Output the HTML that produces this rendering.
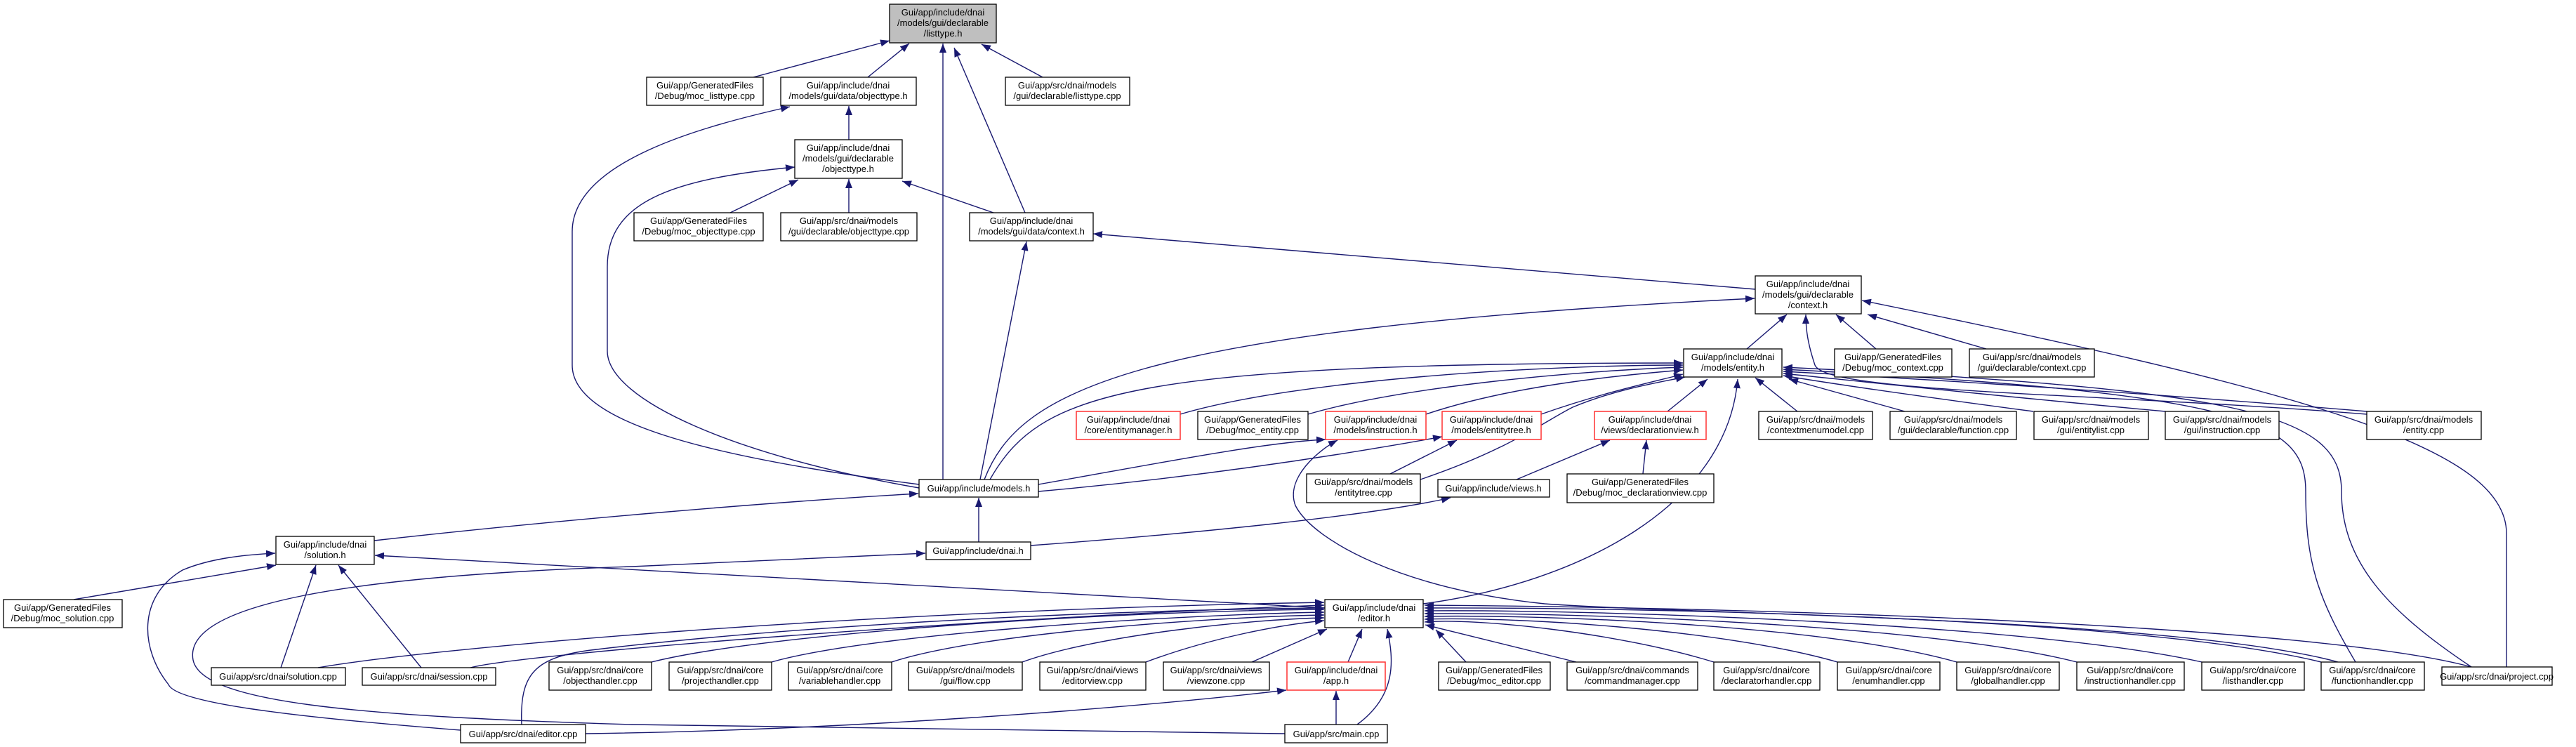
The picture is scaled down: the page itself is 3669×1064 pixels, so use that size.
<!DOCTYPE html>
<html><head><meta charset="utf-8">
<style>
html,body{margin:0;padding:0;background:#fff;}
svg{display:block;}
text{font-family:"Liberation Sans",Arial,sans-serif;font-size:13px;fill:#000;text-anchor:middle;}
.n{fill:#fff;stroke:#000;stroke-width:1.3;}
.r{fill:#fff;stroke:#ff3030;stroke-width:1.5;}
.g{fill:#bfbfbf;stroke:#000;stroke-width:1.3;}
.e{fill:none;stroke:#191970;stroke-width:1.4;marker-end:url(#a);}
</style></head>
<body>
<svg width="3669" height="1064" viewBox="0 0 3669 1064" xmlns="http://www.w3.org/2000/svg">
<defs><marker id="a" markerUnits="userSpaceOnUse" markerWidth="14" markerHeight="11" refX="13" refY="5" orient="auto"><path d="M0,0 L13,5 L0,10 z" fill="#191970"/></marker></defs>

<!-- edges -->
<g>
<path class="e" d="M1073,110 L1267,58"/>
<path class="e" d="M1236,110 L1295,62"/>
<path class="e" d="M1485,110 L1398,63"/>
<path class="e" d="M1343,683 L1343,62"/>
<path class="e" d="M1460,303 L1359,68"/>
<path class="e" d="M1209,199 L1209,151"/>
<path class="e" d="M1309,690 C1000,650 815,600 815,520 L815,330 C815,230 1000,180 1125,152"/>
<path class="e" d="M1309,695 C1050,650 865,570 865,500 L865,380 C865,290 950,255 1132,238"/>
<path class="e" d="M1040,303 L1137,256"/>
<path class="e" d="M1209,303 L1209,255"/>
<path class="e" d="M1415,303 L1285,258"/>
<path class="e" d="M1396,683 L1462,344"/>
<path class="e" d="M2500,412 L1557,333"/>
<path class="e" d="M2488,497 L2545,448"/>
<path class="e" d="M1402,683 C1450,560 1600,470 2499,425"/>
<path class="e" d="M2672,497 L2615,448"/>
<path class="e" d="M2829,497 L2660,448"/>
<path class="e" d="M3570,950 L3570,760 C3570,640 3300,560 2652,428"/>
<path class="e" d="M3371,590 C3000,560 2600,560 2585,520 C2575,490 2572,470 2572,448"/>
<!-- entity.h children -->
<path class="e" d="M1410,683 C1480,560 1600,517 2397,517"/>
<path class="e" d="M1681,590 C1850,540 2200,520 2397,520"/>
<path class="e" d="M1863,590 C2000,550 2250,528 2397,523"/>
<path class="e" d="M2031,590 C2150,550 2300,535 2397,527"/>
<path class="e" d="M2195,590 C2280,560 2350,545 2397,533"/>
<path class="e" d="M2023,683 C2150,640 2200,600 2240,580 C2300,555 2360,545 2400,537"/>
<path class="e" d="M2375,586 L2432,540"/>
<path class="e" d="M2560,586 L2500,538"/>
<path class="e" d="M2713,586 L2548,540"/>
<path class="e" d="M2896,586 C2700,560 2600,545 2540,535"/>
<path class="e" d="M3084,586 C2800,560 2620,540 2540,532"/>
<path class="e" d="M3371,586 C3000,555 2650,535 2540,529"/>
<path class="e" d="M2027,860 C2250,830 2460,720 2475,540"/>
<path class="e" d="M3355,943 C3300,850 3284,800 3284,700 C3284,600 3200,560 2540,526"/>
<path class="e" d="M3520,950 C3400,870 3335,800 3335,700 C3335,590 3200,555 2540,523"/>
<!-- instruction / entitytree -->
<path class="e" d="M1479,690 C1650,660 1800,630 1888,626"/>
<path class="e" d="M1479,700 C1700,680 1900,650 2054,622"/>
<path class="e" d="M3330,943 C3100,880 2400,875 2200,860 C2000,840 1870,770 1845,720 C1830,680 1880,640 1905,627"/>
<path class="e" d="M1980,675 L2075,627"/>
<path class="e" d="M2160,683 L2293,627"/>
<path class="e" d="M2340,675 L2345,627"/>
<!-- models/dnai/solution -->
<path class="e" d="M1394,772 L1394,709"/>
<path class="e" d="M533,770 C800,740 1100,715 1308,703"/>
<path class="e" d="M1468,777 C1700,760 1950,735 2066,709"/>
<path class="e" d="M1830,1045 L900,1032 C500,1020 287,1000 275,940 C260,860 500,820 900,807 L1318,788"/>
<path class="e" d="M656,1040 C400,1020 250,1000 240,975 C200,925 195,850 260,812 C300,795 350,790 392,788"/>
<path class="e" d="M105,854 L393,805"/>
<path class="e" d="M400,951 L450,805"/>
<path class="e" d="M600,951 L482,805"/>
<path class="e" d="M1887,866 L534,791"/>
<!-- editor.h children -->
<path class="e" d="M453,951 C600,925 1200,870 1886,858"/>
<path class="e" d="M670,951 C750,930 1400,880 1886,862"/>
<path class="e" d="M743,1033 C740,960 760,935 850,925 C1100,895 1500,870 1886,866"/>
<path class="e" d="M928,943 C1100,900 1600,870 1886,868"/>
<path class="e" d="M1099,943 C1250,900 1700,875 1886,872"/>
<path class="e" d="M1270,943 C1400,900 1750,878 1886,876"/>
<path class="e" d="M1456,943 C1560,905 1780,882 1886,880"/>
<path class="e" d="M1632,943 C1720,910 1820,890 1886,884"/>
<path class="e" d="M1783,943 L1890,896"/>
<path class="e" d="M1920,943 L1940,896"/>
<path class="e" d="M1933,1032 C1990,990 1985,940 1976,896"/>
<path class="e" d="M2088,943 L2045,897"/>
<path class="e" d="M2245,943 L2030,890"/>
<path class="e" d="M2441,943 C2300,900 2100,880 2029,886"/>
<path class="e" d="M2617,943 C2450,895 2150,878 2029,882"/>
<path class="e" d="M2787,943 C2600,890 2200,875 2029,878"/>
<path class="e" d="M2958,943 C2750,890 2250,872 2029,874"/>
<path class="e" d="M3136,943 C2900,890 2300,868 2029,870"/>
<path class="e" d="M3306,943 C3050,880 2350,865 2029,866"/>
<path class="e" d="M3520,950 C3300,890 2500,865 2029,862"/>
<path class="e" d="M834,1045 C1200,1040 1600,1010 1832,983"/>
<path class="e" d="M1903,1032 L1903,984"/>
</g>

<!-- nodes -->
<g>
<rect class="g" x="1267" y="6" width="152" height="55"/>
<text x="1343" y="22">Gui/app/include/dnai</text><text x="1343" y="37">/models/gui/declarable</text><text x="1343" y="52">/listtype.h</text>

<rect class="n" x="921" y="110" width="166" height="40"/>
<text x="1004" y="126">Gui/app/GeneratedFiles</text><text x="1004" y="141">/Debug/moc_listtype.cpp</text>

<rect class="n" x="1112" y="110" width="193" height="40"/>
<text x="1208" y="126">Gui/app/include/dnai</text><text x="1208" y="141">/models/gui/data/objecttype.h</text>

<rect class="n" x="1432" y="110" width="177" height="40"/>
<text x="1520" y="126">Gui/app/src/dnai/models</text><text x="1520" y="141">/gui/declarable/listtype.cpp</text>

<rect class="n" x="1132" y="199" width="153" height="55"/>
<text x="1208" y="215">Gui/app/include/dnai</text><text x="1208" y="230">/models/gui/declarable</text><text x="1208" y="245">/objecttype.h</text>

<rect class="n" x="903" y="303" width="184" height="40"/>
<text x="995" y="319">Gui/app/GeneratedFiles</text><text x="995" y="334">/Debug/moc_objecttype.cpp</text>

<rect class="n" x="1112" y="303" width="194" height="40"/>
<text x="1209" y="319">Gui/app/src/dnai/models</text><text x="1209" y="334">/gui/declarable/objecttype.cpp</text>

<rect class="n" x="1381" y="303" width="176" height="40"/>
<text x="1469" y="319">Gui/app/include/dnai</text><text x="1469" y="334">/models/gui/data/context.h</text>

<rect class="n" x="2500" y="393" width="151" height="54"/>
<text x="2575" y="409">Gui/app/include/dnai</text><text x="2575" y="424">/models/gui/declarable</text><text x="2575" y="439">/context.h</text>

<rect class="n" x="2398" y="497" width="140" height="40"/>
<text x="2468" y="513">Gui/app/include/dnai</text><text x="2468" y="528">/models/entity.h</text>

<rect class="n" x="2613" y="497" width="167" height="40"/>
<text x="2696" y="513">Gui/app/GeneratedFiles</text><text x="2696" y="528">/Debug/moc_context.cpp</text>

<rect class="n" x="2805" y="497" width="178" height="40"/>
<text x="2894" y="513">Gui/app/src/dnai/models</text><text x="2894" y="528">/gui/declarable/context.cpp</text>

<rect class="r" x="1533" y="586" width="148" height="40"/>
<text x="1607" y="602">Gui/app/include/dnai</text><text x="1607" y="617">/core/entitymanager.h</text>

<rect class="n" x="1706" y="586" width="157" height="40"/>
<text x="1784" y="602">Gui/app/GeneratedFiles</text><text x="1784" y="617">/Debug/moc_entity.cpp</text>

<rect class="r" x="1888" y="586" width="143" height="40"/>
<text x="1959" y="602">Gui/app/include/dnai</text><text x="1959" y="617">/models/instruction.h</text>

<rect class="r" x="2054" y="586" width="141" height="40"/>
<text x="2124" y="602">Gui/app/include/dnai</text><text x="2124" y="617">/models/entitytree.h</text>

<rect class="r" x="2271" y="586" width="159" height="40"/>
<text x="2350" y="602">Gui/app/include/dnai</text><text x="2350" y="617">/views/declarationview.h</text>

<rect class="n" x="2505" y="586" width="162" height="40"/>
<text x="2586" y="602">Gui/app/src/dnai/models</text><text x="2586" y="617">/contextmenumodel.cpp</text>

<rect class="n" x="2692" y="586" width="180" height="40"/>
<text x="2782" y="602">Gui/app/src/dnai/models</text><text x="2782" y="617">/gui/declarable/function.cpp</text>

<rect class="n" x="2897" y="586" width="163" height="40"/>
<text x="2978" y="602">Gui/app/src/dnai/models</text><text x="2978" y="617">/gui/entitylist.cpp</text>

<rect class="n" x="3084" y="586" width="162" height="40"/>
<text x="3165" y="602">Gui/app/src/dnai/models</text><text x="3165" y="617">/gui/instruction.cpp</text>

<rect class="n" x="3371" y="586" width="163" height="40"/>
<text x="3452" y="602">Gui/app/src/dnai/models</text><text x="3452" y="617">/entity.cpp</text>

<rect class="n" x="1309" y="683" width="170" height="25"/>
<text x="1394" y="700">Gui/app/include/models.h</text>

<rect class="n" x="1861" y="675" width="162" height="41"/>
<text x="1942" y="691">Gui/app/src/dnai/models</text><text x="1942" y="706">/entitytree.cpp</text>

<rect class="n" x="2048" y="683" width="159" height="25"/>
<text x="2127" y="700">Gui/app/include/views.h</text>

<rect class="n" x="2232" y="675" width="209" height="41"/>
<text x="2336" y="691">Gui/app/GeneratedFiles</text><text x="2336" y="706">/Debug/moc_declarationview.cpp</text>

<rect class="n" x="1319" y="772" width="149" height="25"/>
<text x="1393" y="789">Gui/app/include/dnai.h</text>

<rect class="n" x="393" y="764" width="140" height="40"/>
<text x="463" y="780">Gui/app/include/dnai</text><text x="463" y="795">/solution.h</text>

<rect class="n" x="5" y="854" width="169" height="40"/>
<text x="89" y="870">Gui/app/GeneratedFiles</text><text x="89" y="885">/Debug/moc_solution.cpp</text>

<rect class="n" x="1887" y="854" width="140" height="40"/>
<text x="1957" y="870">Gui/app/include/dnai</text><text x="1957" y="885">/editor.h</text>

<rect class="n" x="301" y="951" width="191" height="25"/>
<text x="396" y="968">Gui/app/src/dnai/solution.cpp</text>

<rect class="n" x="516" y="951" width="190" height="25"/>
<text x="611" y="968">Gui/app/src/dnai/session.cpp</text>

<rect class="n" x="782" y="943" width="146" height="40"/>
<text x="855" y="959">Gui/app/src/dnai/core</text><text x="855" y="974">/objecthandler.cpp</text>

<rect class="n" x="953" y="943" width="146" height="40"/>
<text x="1026" y="959">Gui/app/src/dnai/core</text><text x="1026" y="974">/projecthandler.cpp</text>

<rect class="n" x="1123" y="943" width="147" height="40"/>
<text x="1196" y="959">Gui/app/src/dnai/core</text><text x="1196" y="974">/variablehandler.cpp</text>

<rect class="n" x="1294" y="943" width="162" height="40"/>
<text x="1375" y="959">Gui/app/src/dnai/models</text><text x="1375" y="974">/gui/flow.cpp</text>

<rect class="n" x="1481" y="943" width="151" height="40"/>
<text x="1556" y="959">Gui/app/src/dnai/views</text><text x="1556" y="974">/editorview.cpp</text>

<rect class="n" x="1657" y="943" width="151" height="40"/>
<text x="1732" y="959">Gui/app/src/dnai/views</text><text x="1732" y="974">/viewzone.cpp</text>

<rect class="r" x="1833" y="943" width="140" height="40"/>
<text x="1903" y="959">Gui/app/include/dnai</text><text x="1903" y="974">/app.h</text>

<rect class="n" x="2049" y="943" width="159" height="40"/>
<text x="2128" y="959">Gui/app/GeneratedFiles</text><text x="2128" y="974">/Debug/moc_editor.cpp</text>

<rect class="n" x="2232" y="943" width="186" height="40"/>
<text x="2325" y="959">Gui/app/src/dnai/commands</text><text x="2325" y="974">/commandmanager.cpp</text>

<rect class="n" x="2441" y="943" width="151" height="40"/>
<text x="2516" y="959">Gui/app/src/dnai/core</text><text x="2516" y="974">/declaratorhandler.cpp</text>

<rect class="n" x="2617" y="943" width="146" height="40"/>
<text x="2690" y="959">Gui/app/src/dnai/core</text><text x="2690" y="974">/enumhandler.cpp</text>

<rect class="n" x="2787" y="943" width="146" height="40"/>
<text x="2860" y="959">Gui/app/src/dnai/core</text><text x="2860" y="974">/globalhandler.cpp</text>

<rect class="n" x="2958" y="943" width="153" height="40"/>
<text x="3034" y="959">Gui/app/src/dnai/core</text><text x="3034" y="974">/instructionhandler.cpp</text>

<rect class="n" x="3136" y="943" width="146" height="40"/>
<text x="3209" y="959">Gui/app/src/dnai/core</text><text x="3209" y="974">/listhandler.cpp</text>

<rect class="n" x="3306" y="943" width="147" height="40"/>
<text x="3379" y="959">Gui/app/src/dnai/core</text><text x="3379" y="974">/functionhandler.cpp</text>

<rect class="n" x="3478" y="950" width="157" height="26"/>
<text x="3556" y="968">Gui/app/src/dnai/project.cpp</text>

<rect class="n" x="656" y="1032" width="178" height="26"/>
<text x="745" y="1050">Gui/app/src/dnai/editor.cpp</text>

<rect class="n" x="1830" y="1032" width="146" height="26"/>
<text x="1903" y="1050">Gui/app/src/main.cpp</text>
</g>
</svg>
</body></html>
